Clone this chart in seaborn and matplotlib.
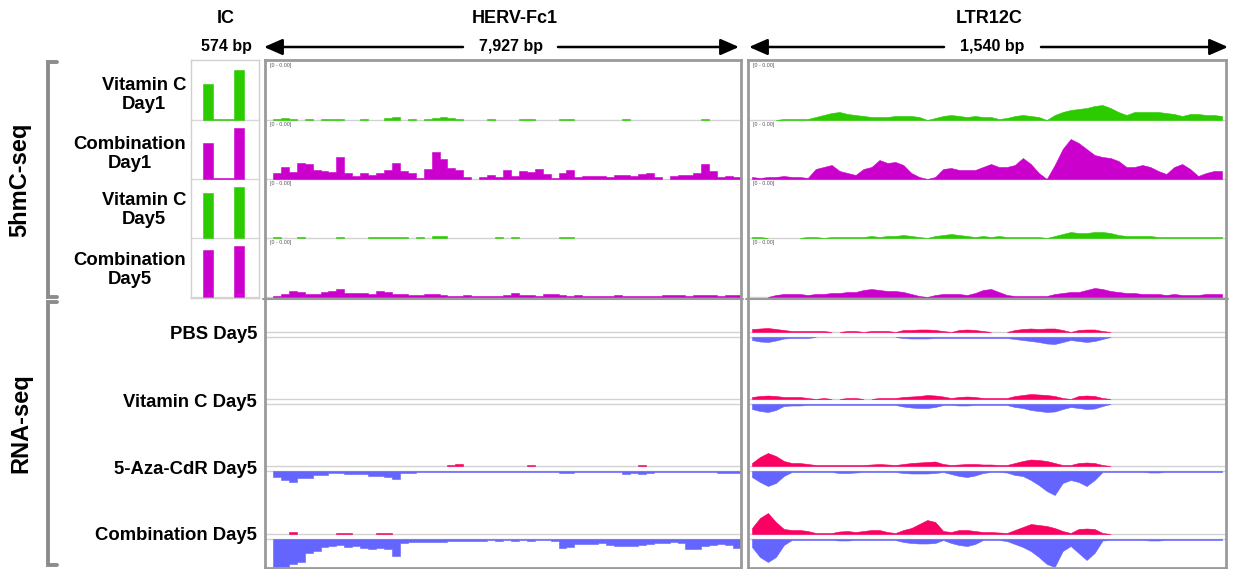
import numpy as np
import pandas as pd
import matplotlib.pyplot as plt
import seaborn as sns

sns.set_theme(style="white")
plt.rcParams['font.family'] = ['Liberation Sans', 'DejaVu Sans']

IC_BP, HERV_BP, LTR_BP = 574, 7927, 1540

hmc_labels = ['Vitamin C\nDay1', 'Combination\nDay1', 'Vitamin C\nDay5', 'Combination\nDay5']
rna_labels = ['PBS Day5', 'Vitamin C Day5', '5-Aza-CdR Day5', 'Combination Day5']

# IC spike-in: segment edges (bp) and heights per 5hmC track
ic_edges = [0, 101, 186, 363, 447, 574]
ic_vitc_d1 = [0, 36, 1, 50, 0]
ic_combo_d1 = [0, 36, 1, 51, 0]
ic_vitc_d5 = [0, 45, 0, 51, 0]
ic_combo_d5 = [0, 47, 0, 51, 0]

# 5hmC-seq, HERV-Fc1
herv_vitc_d1 = [0, 1, 2, 1, 0, 1.5, 0, 1, 1, 1, 0, 0, 1, 0, 0, 2, 3, 0, 1, 0,
                1, 2, 3, 2, 1, 0, 0, 0, 1, 0, 0, 0, 1, 1, 0, 0, 0, 1, 1, 0,
                0, 0, 0, 0, 0, 1, 0, 0, 0, 0, 0, 0, 0, 0, 0, 1, 0, 0, 0, 0]
herv_combo_d1 = [0, 6, 12, 7, 16, 15, 9, 8, 7, 22, 6, 3, 6, 4, 6, 9, 16, 8, 6, 1,
                 10, 27, 20, 11, 9, 2, 0, 2, 4, 2, 9, 3, 8, 7, 10, 5, 1, 6, 9, 2,
                 3, 3, 3, 2, 4, 4, 3, 5, 6, 2, 0, 3, 4, 4, 6, 15, 8, 2, 3, 2]
herv_vitc_d5 = [0, 1, 0, 0, 1, 0, 0, 0, 0, 1, 0, 0, 0, 1, 1, 1, 1, 1, 0, 1,
                0, 2, 2, 0, 0, 0, 0, 0, 0, 1, 0, 1, 0, 0, 0, 0, 0, 1, 1, 0,
                0, 0, 0, 0, 0, 0, 0, 0, 0, 0, 0, 0, 0, 0, 0, 0, 0, 0, 0, 0]
herv_combo_d5 = [0, 1, 3, 6, 5, 3, 3, 5, 6, 8, 4, 4, 4, 3, 6, 5, 3, 3, 2, 2,
                 3, 3, 2, 1, 1, 2, 1, 1, 1, 1, 2, 4, 2, 2, 1, 3, 3, 2, 1, 2,
                 1, 1, 1, 1, 2, 1, 1, 1, 1, 1, 2, 2, 2, 1, 2, 2, 2, 1, 2, 2]

# 5hmC-seq, LTR12C
ltr_vitc_d1 = [0, 0, 0, 0, 1, 1, 1, 1, 3, 5, 7, 8, 6, 5, 4, 3, 3, 3, 4, 4,
               4, 3, 0, 2, 4, 5, 4, 3, 4, 3, 3, 1, 2, 4, 5, 4, 3, 0, 5, 8,
               10, 11, 12, 14, 15, 12, 8, 5, 8, 8, 8, 8, 7, 6, 4, 6, 6, 5, 5, 4]
ltr_combo_d1 = [2, 1, 2, 2, 3, 2, 2, 1, 10, 12, 14, 8, 6, 4, 10, 12, 19, 16, 17, 14,
                6, 2, 0, 2, 10, 11, 9, 9, 9, 12, 15, 12, 12, 14, 21, 15, 6, 0, 14, 30,
                40, 36, 30, 24, 22, 21, 18, 12, 12, 14, 12, 8, 5, 12, 15, 10, 3, 6, 8, 8]
ltr_vitc_d5 = [1, 1, 0, 0, 0, 0, 0, 1, 1, 0, 1, 1, 1, 1, 1, 2, 1, 2, 2, 3,
               2, 1, 0, 2, 3, 4, 3, 2, 1, 2, 1, 2, 1, 1, 1, 1, 1, 0, 2, 4,
               6, 5, 5, 6, 6, 5, 3, 2, 2, 2, 2, 1, 1, 1, 1, 1, 1, 1, 1, 1]
ltr_combo_d5 = [0, 0, 0, 2, 3, 3, 3, 2, 3, 3, 4, 4, 5, 5, 7, 8, 7, 6, 6, 5,
                3, 1, 0, 2, 3, 3, 3, 2, 4, 7, 8, 5, 2, 1, 1, 1, 1, 1, 3, 4,
                5, 5, 7, 9, 8, 6, 5, 4, 4, 3, 3, 3, 2, 3, 2, 2, 2, 3, 3, 3]

# RNA-seq, HERV-Fc1 (plus / minus strand)
herv_pbs_plus = [0] * 60
herv_pbs_minus = [0] * 60
herv_vitc_plus = [0] * 60
herv_vitc_minus = [0] * 60
herv_aza_plus = [0, 0, 0, 0, 0, 0, 0, 0, 0, 0, 0, 0, 0, 0, 0, 0, 0, 0, 0, 0,
                 0, 0, 0, 1, 1.5, 0, 0, 0, 0, 0, 0, 0, 0, 1, 0, 0, 0, 0, 0, 0,
                 0, 0, 0, 0, 0, 0, 0, 1, 0, 0, 0, 0, 0, 0, 0, 0, 0, 0, 0, 0]
herv_aza_minus = [0, 6, 9, 11, 7, 7, 4, 4, 2, 2, 3, 3, 3, 5, 5, 6, 8, 2, 2, 1,
                  1, 1, 1, 1, 1, 1, 1, 1, 1, 1, 1, 1, 1, 1, 1, 1, 1, 2, 2, 1,
                  1.5, 1, 1, 1.5, 1, 3, 2.5, 3, 2, 1, 1, 1, 1, 1, 1, 1, 1, 2, 2.5, 2.5]
herv_combo_plus = [0, 0, 0, 2, 0, 0, 0, 0, 0, 1, 1, 0, 0, 0, 1, 1, 0, 0, 0, 0,
                   0, 0, 0, 0, 0, 0, 0, 0, 0, 0, 0, 0, 0, 0, 0, 0, 0, 0, 0, 0,
                   0, 0, 0, 0, 0, 0, 0, 0, 0, 0, 0, 0, 0, 0, 0, 0, 0, 0, 0, 0]
herv_combo_minus = [0, 29, 28, 25, 23, 14, 12, 8, 7, 6, 8, 7, 9, 10, 9, 10, 17, 4, 3, 3,
                    3, 3, 3, 2, 2, 1.5, 1.5, 1.5, 1, 1.5, 1, 1.5, 1, 1.5, 1, 1, 1.5, 9, 8, 5,
                    5, 5, 4, 6, 7, 7, 7, 6, 5, 4, 4, 3, 4, 10, 10, 7, 6, 5, 6, 9]

# RNA-seq, LTR12C (plus / minus strand)
ltr_pbs_plus = [3, 3.5, 4, 3, 2, 1, 1, 1, 1, 1, 0, 0, 1, 1, 0, 1, 1, 1, 0, 2,
                2, 2.5, 2.5, 2, 1, 0, 2, 2.5, 2, 1, 0, 0, 0, 2, 3, 3.5, 3, 3.5, 3.5, 2,
                0, 2, 2.5, 2.5, 1, 0, 0, 0, 0, 0, 0, 0, 0, 0, 0, 0, 0, 0, 0, 0]
ltr_pbs_minus = [3, 4.5, 5, 3.5, 1.5, 1, 1, 1, 0, 0, 0, 0, 0, 0, 0, 0, 0, 0, 0, 1,
                 1.5, 1.5, 1.5, 1, 1, 1, 1, 1, 1, 1, 1, 1, 1, 2, 3, 4, 5, 6.5, 7, 5,
                 3, 4, 5, 4, 2, 0, 0, 0, 0, 0, 0, 0, 0, 0, 0, 0, 0, 0, 0, 0]
ltr_vitc_plus = [2, 3, 3.5, 3, 2, 2, 2, 1, 0, 1, 0, 0, 1, 1, 0, 0, 1, 1, 1, 2,
                 2.5, 3, 4, 3.5, 2.5, 1, 2, 2.5, 2, 1, 1, 1, 1, 3, 4, 5, 4.5, 4, 3, 1,
                 0, 3, 3.5, 3, 1, 0, 0, 0, 0, 0, 0, 0, 0, 0, 0, 0, 0, 0, 0, 0]
ltr_vitc_minus = [5, 7, 8, 6, 2, 1.5, 1.5, 1, 1, 1, 1, 1, 1, 1, 1, 1, 1, 1, 1, 2.5,
                  3.5, 4, 4, 3, 1, 1, 1.5, 1.5, 1, 1, 1, 1, 1, 3, 4, 6, 7, 8, 7.5, 5,
                  3, 4, 5, 4.5, 2, 0, 0, 0, 0, 0, 0, 0, 0, 0, 0, 0, 0, 0, 0, 0]
ltr_aza_plus = [3, 9, 13, 10, 5, 3, 3, 2, 1, 1, 1, 1, 1, 1, 1, 1.5, 2, 1.5, 1, 2,
                3, 3.5, 4, 4.5, 2, 1, 1.5, 2, 2, 1.5, 1.5, 1, 1, 3, 5, 6.5, 6, 5, 3, 1,
                1, 3, 3.5, 3, 1, 0, 0, 0, 0, 0, 0, 0, 0, 0, 0, 0, 0, 0, 0, 0]
ltr_aza_minus = [6, 11, 15, 12, 5, 1, 1, 1, 1, 1, 1, 2, 2, 1.5, 1, 1, 1, 1, 1, 2,
                 2.5, 2.5, 2.5, 2, 1, 3, 5, 6, 4.5, 2, 1, 1, 1.5, 4, 5, 9, 14, 20, 24, 12,
                 9, 11, 15, 9, 1, 1, 1, 1, 1, 1, 1.5, 1.5, 1, 1, 1, 1, 1, 1, 1, 1]
ltr_combo_plus = [6, 16, 21, 12, 5, 4, 4, 3, 1, 1, 1, 2.5, 3, 2, 3, 4, 4, 2, 1, 4,
                  6, 10, 14, 12, 3, 2, 4, 4, 3, 2, 2, 1.5, 1, 4, 7, 10, 9, 8, 6, 3,
                  1, 5, 5.5, 5, 1, 0, 0, 0, 0, 0, 0, 0, 0, 0, 0, 0, 0, 0, 0, 0]
ltr_combo_minus = [8, 18, 23, 18, 6, 1, 1, 1, 1, 1, 1, 1.5, 1.5, 1, 1, 1, 1, 1, 1, 3,
                   4, 4.5, 4.5, 4, 1, 4, 6, 7, 5, 1, 1, 1, 2, 5, 8, 12, 18, 25, 28, 12,
                   7, 14, 21, 14, 1.5, 1, 1, 1, 1, 1, 1.5, 1.5, 1, 1, 1, 1, 1, 1, 1, 1]

GREEN, MAGENTA, RED, BLUE = '#2bcb00', '#cc00cc', '#fa0062', '#6464ff'

# ---------------- layout (pixels) ----------------
W, H = 1235, 569
IC_X, HERV_X, LTR_X = (191, 259), (265, 741), (748, 1226)
HMC_ROWS = [(61, 120), (120, 179), (179, 238), (238, 297)]
RNA_BASE = [(332, 337), (399, 404), (466, 471), (534, 539)]

fig = plt.figure(figsize=(W / 100, H / 100), dpi=100)


def px_axes(x0, y0, x1, y1, z=1):
    ax = fig.add_axes([x0 / W, 1 - y1 / H, (x1 - x0) / W, (y1 - y0) / H], zorder=z)
    ax.patch.set_alpha(0)
    ax.set_axis_off()
    return ax


def nonzero_runs(vals):
    runs, start = [], None
    for i, v in enumerate(list(vals) + [0]):
        if v > 0 and start is None:
            start = i
        elif v <= 0 and start is not None:
            runs.append((start, i))
            start = None
    return runs


def draw_cov(ax, vals, edges, color, smooth, top, down=False, base='#d2d2d2'):
    edges = [float(e) for e in edges]
    vals = [float(v) for v in vals]
    ax.axhline(0, color=base, lw=1, clip_on=False, zorder=0)
    for s, e in nonzero_runs(vals):
        if smooth:
            s, e = max(s - 1, 0), min(e + 1, len(vals))
        sub_edges = edges[s:e + 1]
        df = pd.DataFrame({'pos': [(a + b) / 2 for a, b in zip(sub_edges[:-1], sub_edges[1:])],
                           'cov': vals[s:e]})
        sns.histplot(data=df, x='pos', weights='cov', bins=sub_edges,
                     element='poly' if smooth else 'step', fill=True, alpha=1,
                     color=color, edgecolor=color, linewidth=0.4, ax=ax)
    ax.set_xlim(edges[0], edges[-1])
    ax.set_ylim((top, 0) if down else (0, top))
    ax.set_axis_off()


def panel(x0, x1, y0, y1, edge, lw):
    bg = px_axes(x0, y0, x1, y1, z=0)
    bg.patch.set_alpha(1)
    bg.patch.set_facecolor('#f9f9f9')
    fr = px_axes(x0, y0, x1, y1, z=3)
    fr.set_axis_on()
    fr.set_xticks([])
    fr.set_yticks([])
    for s in fr.spines.values():
        s.set_color(edge)
        s.set_linewidth(lw)


# backgrounds / frames
panel(*IC_X, 60, 298, '#d0d0d0', 1.0)
for px in (HERV_X, LTR_X):
    panel(*px, 60, 568, '#9a9a9a', 2.0)

# IC bars
ic_sets = [ic_vitc_d1, ic_combo_d1, ic_vitc_d5, ic_combo_d5]
for (y0, y1), vals, col in zip(HMC_ROWS, ic_sets, [GREEN, MAGENTA, GREEN, MAGENTA]):
    ax = px_axes(IC_X[0], y0, IC_X[1], y1)
    draw_cov(ax, vals, ic_edges, col, False, y1 - y0, base='#d8d8d8')

# 5hmC tracks
hmc = {HERV_X: ([herv_vitc_d1, herv_combo_d1, herv_vitc_d5, herv_combo_d5], HERV_BP, False),
       LTR_X: ([ltr_vitc_d1, ltr_combo_d1, ltr_vitc_d5, ltr_combo_d5], LTR_BP, True)}
for (x0, x1), (sets, length, smooth) in hmc.items():
    for (y0, y1), vals, col in zip(HMC_ROWS, sets, [GREEN, MAGENTA, GREEN, MAGENTA]):
        ax = px_axes(x0, y0, x1, y1)
        draw_cov(ax, vals, np.linspace(0, length, len(vals) + 1), col, smooth, y1 - y0)
        fig.text((x0 + 5) / W, 1 - (y0 + 2) / H, '[0 - 0.00]', fontsize=3.8,
                 color='#555555', va='top', ha='left', zorder=12)

# RNA-seq tracks
rna = {HERV_X: ([(herv_pbs_plus, herv_pbs_minus), (herv_vitc_plus, herv_vitc_minus),
                 (herv_aza_plus, herv_aza_minus), (herv_combo_plus, herv_combo_minus)], HERV_BP, False),
       LTR_X: ([(ltr_pbs_plus, ltr_pbs_minus), (ltr_vitc_plus, ltr_vitc_minus),
                (ltr_aza_plus, ltr_aza_minus), (ltr_combo_plus, ltr_combo_minus)], LTR_BP, True)}
for (x0, x1), (sets, length, smooth) in rna.items():
    for (bp, bm), (plus, minus) in zip(RNA_BASE, sets):
        edges = np.linspace(0, length, len(plus) + 1)
        ax = px_axes(x0, bp - 30, x1, bp)
        draw_cov(ax, plus, edges, RED, smooth, 30)
        low = min(bm + 30, 567)
        ax = px_axes(x0, bm, x1, low)
        draw_cov(ax, minus, edges, BLUE, smooth, low - bm, down=True)

# ---------------- annotations ----------------
ov = px_axes(0, 0, W, H, z=10)
ov.set_xlim(0, W)
ov.set_ylim(H, 0)

# section separator between 5hmC and RNA blocks
for x0, x1 in (HERV_X, LTR_X):
    ov.plot([x0 - 2, x1 + 2], [298.5, 298.5], color='#9a9a9a', lw=1.5)

bold = dict(fontweight='bold', color='black')
ov.text(226, 18, 'IC', ha='center', va='center', fontsize=13, **bold)
ov.text(515, 18, 'HERV-Fc1', ha='center', va='center', fontsize=13, **bold)
ov.text(989, 18, 'LTR12C', ha='center', va='center', fontsize=13, **bold)
ov.text(226, 46, '574 bp', ha='center', va='center', fontsize=11.5, **bold)
ov.text(511, 46, '7,927 bp', ha='center', va='center', fontsize=11.5, **bold)
ov.text(992, 46, '1,540 bp', ha='center', va='center', fontsize=11.5, **bold)

arrow = dict(arrowstyle='-|>,head_length=0.8,head_width=0.35', lw=1.8, color='black',
             shrinkA=0, shrinkB=0, mutation_scale=14)
for tip, tail in [(264, 463), (739, 558), (749, 944), (1228, 1041)]:
    ov.annotate('', xy=(tip, 47), xytext=(tail, 47), arrowprops=arrow)

for lab, y in zip(hmc_labels, [95, 154, 210, 270]):
    ov.text(186, y, lab, ha='right', va='center', multialignment='center', fontsize=13.3, **bold)
for lab, y in zip(rna_labels, [334, 402, 469, 535]):
    ov.text(257, y, lab, ha='right', va='center', fontsize=13.3, **bold)

# brackets and section titles
for y0, y1 in [(62, 297), (302, 565)]:
    ov.plot([57, 48, 48, 57], [y0, y0, y1, y1], color='#8c8c8c', lw=2.8, solid_joinstyle='miter')
ov.text(20, 180, '5hmC-seq', rotation=90, ha='center', va='center', fontsize=17, **bold)
ov.text(21, 423, 'RNA-seq', rotation=90, ha='center', va='center', fontsize=17, **bold)

fig.savefig('out.png', dpi=100)
